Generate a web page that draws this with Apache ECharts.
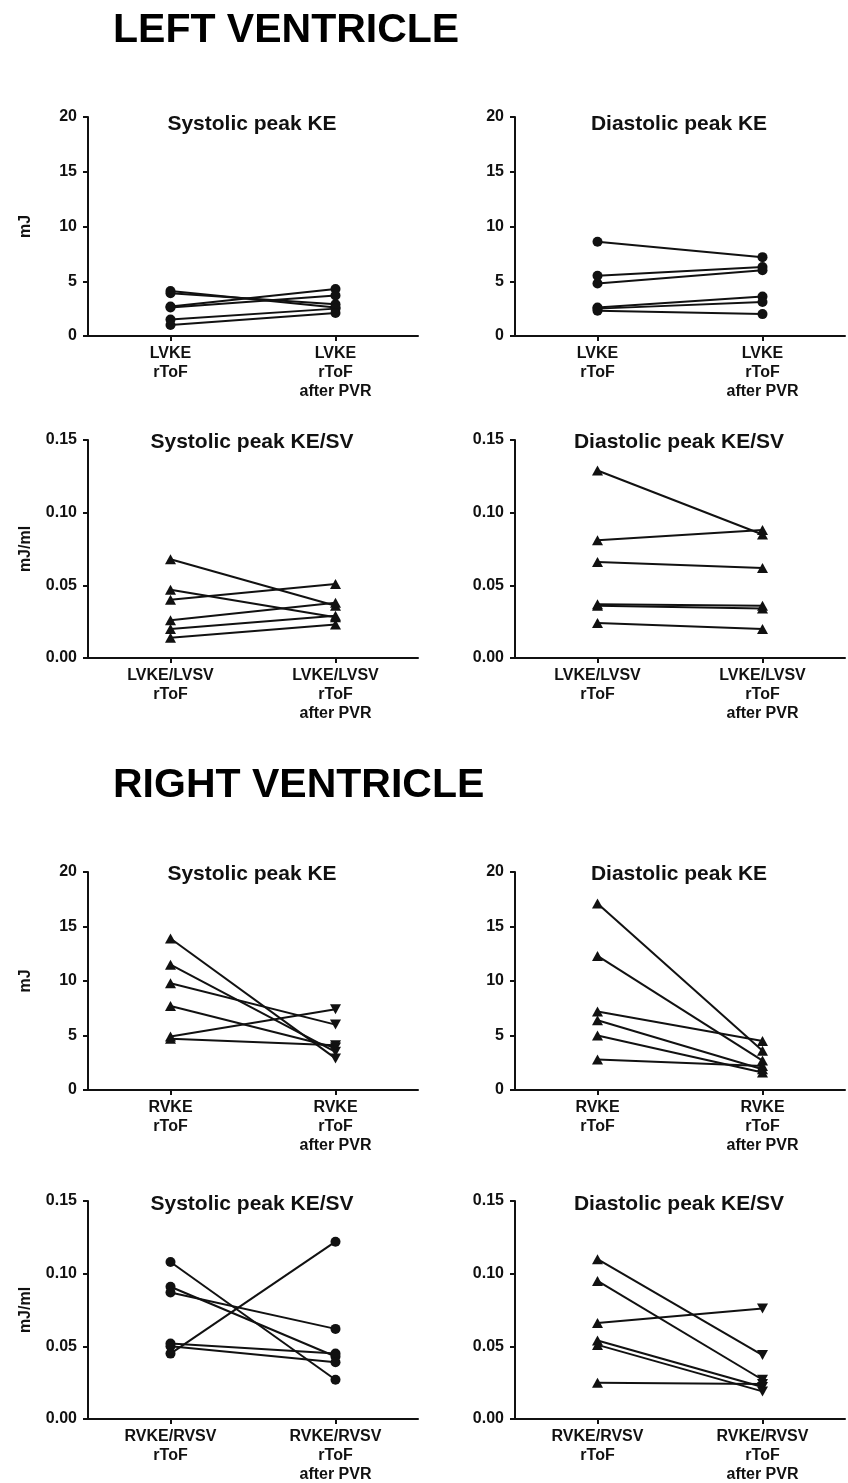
<!DOCTYPE html>
<html>
<head>
<meta charset="utf-8">
<script src="https://cdn.jsdelivr.net/npm/echarts@6/dist/echarts.min.js"></script>
<style>
  html, body { margin: 0; padding: 0; background: #fff; }
  #chart { width: 848px; height: 1483px; }
</style>
</head>
<body>
<div id="chart"></div>
<script>
// ---------- categories ----------
const LV_KE_CATS   = ['LVKE\nrToF', 'LVKE\nrToF\nafter PVR'];
const LV_KESV_CATS = ['LVKE/LVSV\nrToF', 'LVKE/LVSV\nrToF\nafter PVR'];
const RV_KE_CATS   = ['RVKE\nrToF', 'RVKE\nrToF\nafter PVR'];
const RV_KESV_CATS = ['RVKE/RVSV\nrToF', 'RVKE/RVSV\nrToF\nafter PVR'];

// ---------- tick labels ----------
const KE_TICKS   = [0, 5, 10, 15, 20];
const KESV_TICKS = [0, 0.05, 0.10, 0.15];

// ---------- panel titles ----------
const PANEL_TITLES = [
  'Systolic peak KE', 'Diastolic peak KE',
  'Systolic peak KE/SV', 'Diastolic peak KE/SV',
  'Systolic peak KE', 'Diastolic peak KE',
  'Systolic peak KE/SV', 'Diastolic peak KE/SV'
];

// ---------- data (before PVR -> after PVR), one entry per patient ----------
const lvSysKE_pre   = [4.1, 3.9, 2.7, 2.6, 1.5, 1.0];
const lvSysKE_post  = [2.6, 2.9, 4.3, 3.7, 2.5, 2.1];

const lvDiaKE_pre   = [8.6, 5.5, 4.8, 2.6, 2.5, 2.3];
const lvDiaKE_post  = [7.2, 6.3, 6.0, 3.6, 3.1, 2.0];

const lvSysKESV_pre  = [0.068, 0.047, 0.040, 0.026, 0.020, 0.014];
const lvSysKESV_post = [0.036, 0.028, 0.051, 0.038, 0.029, 0.023];

const lvDiaKESV_pre  = [0.129, 0.081, 0.066, 0.037, 0.036, 0.024];
const lvDiaKESV_post = [0.085, 0.088, 0.062, 0.036, 0.034, 0.020];

const rvSysKE_pre   = [13.9, 11.5, 9.8, 7.7, 4.9, 4.7];
const rvSysKE_post  = [2.9, 3.5, 6.0, 3.9, 7.4, 4.1];

const rvDiaKE_pre   = [17.1, 12.3, 7.2, 6.4, 5.0, 2.8];
const rvDiaKE_post  = [3.6, 2.7, 4.5, 1.9, 1.6, 2.2];

const rvSysKESV_pre  = [0.108, 0.091, 0.087, 0.052, 0.050, 0.045];
const rvSysKESV_post = [0.027, 0.043, 0.062, 0.045, 0.039, 0.122];

const rvDiaKESV_pre  = [0.110, 0.095, 0.066, 0.054, 0.051, 0.025];
const rvDiaKESV_post = [0.044, 0.027, 0.076, 0.022, 0.019, 0.024];

// ---------- build ----------
const FONT = "'Liberation Sans', Arial, Helvetica, sans-serif";
const INK = '#111';

const panels = [
  { cats: LV_KE_CATS,   ticks: KE_TICKS,   pre: lvSysKE_pre,   post: lvSysKE_post,   preSym: 'circle',   postSym: 'circle',   postRot: 0,   name: 'mJ' },
  { cats: LV_KE_CATS,   ticks: KE_TICKS,   pre: lvDiaKE_pre,   post: lvDiaKE_post,   preSym: 'circle',   postSym: 'circle',   postRot: 0,   name: '' },
  { cats: LV_KESV_CATS, ticks: KESV_TICKS, pre: lvSysKESV_pre, post: lvSysKESV_post, preSym: 'triangle', postSym: 'triangle', postRot: 0,   name: 'mJ/ml' },
  { cats: LV_KESV_CATS, ticks: KESV_TICKS, pre: lvDiaKESV_pre, post: lvDiaKESV_post, preSym: 'triangle', postSym: 'triangle', postRot: 0,   name: '' },
  { cats: RV_KE_CATS,   ticks: KE_TICKS,   pre: rvSysKE_pre,   post: rvSysKE_post,   preSym: 'triangle', postSym: 'triangle', postRot: 180, name: 'mJ' },
  { cats: RV_KE_CATS,   ticks: KE_TICKS,   pre: rvDiaKE_pre,   post: rvDiaKE_post,   preSym: 'triangle', postSym: 'triangle', postRot: 0,   name: '' },
  { cats: RV_KESV_CATS, ticks: KESV_TICKS, pre: rvSysKESV_pre, post: rvSysKESV_post, preSym: 'circle',   postSym: 'circle',   postRot: 0,   name: 'mJ/ml' },
  { cats: RV_KESV_CATS, ticks: KESV_TICKS, pre: rvDiaKESV_pre, post: rvDiaKESV_post, preSym: 'triangle', postSym: 'triangle', postRot: 180, name: '' }
];

// grid geometry (top, bottom) per row; left per column
const ROWS = [[117, 336], [440, 658], [872, 1090], [1201, 1419]];
const COLS = [88, 515];
const GRID_W = 330;
const TITLE_Y = [123, 441, 873, 1203];

const grids = [], xAxes = [], yAxes = [], series = [], graphics = [];

panels.forEach((p, i) => {
  const row = Math.floor(i / 2), col = i % 2;
  const top = ROWS[row][0], bottom = ROWS[row][1];
  const left = COLS[col];
  grids.push({ left: left, top: top, width: GRID_W, height: bottom - top, outerBoundsMode: 'none', containLabel: false });

  const isSV = p.ticks === KESV_TICKS;
  xAxes.push({
    type: 'category', gridIndex: i, data: p.cats, boundaryGap: true,
    axisLine: { lineStyle: { color: INK, width: 2 } },
    axisTick: { show: true, alignWithLabel: true, length: 5, lineStyle: { color: INK, width: 2 } },
    axisLabel: { color: INK, fontFamily: FONT, fontWeight: 'bold', fontSize: 16, lineHeight: 19, margin: 8, interval: 0 },
    splitLine: { show: false }
  });
  yAxes.push({
    type: 'value', gridIndex: i,
    min: p.ticks[0], max: p.ticks[p.ticks.length - 1], interval: p.ticks[1] - p.ticks[0],
    name: p.name, nameLocation: 'middle', nameRotate: 90, nameGap: 54,
    nameTextStyle: { color: INK, fontFamily: FONT, fontWeight: 'bold', fontSize: 16 },
    axisLine: { show: true, lineStyle: { color: INK, width: 2 } },
    axisTick: { show: true, length: 5, lineStyle: { color: INK, width: 2 } },
    axisLabel: { color: INK, fontFamily: FONT, fontWeight: 'bold', fontSize: 16, margin: 11,
      formatter: v => isSV ? v.toFixed(2) : String(v) },
    splitLine: { show: false }
  });

  p.pre.forEach((v, k) => {
    series.push({
      type: 'line', xAxisIndex: i, yAxisIndex: i, silent: true, animation: false,
      lineStyle: { color: INK, width: 2 },
      itemStyle: { color: INK, borderWidth: 0 },
      symbolSize: p.preSym === 'circle' ? 10 : [11, 10],
      data: [
        { value: v, symbol: p.preSym },
        { value: p.post[k], symbol: p.postSym, symbolRotate: p.postRot }
      ]
    });
  });

  graphics.push({
    type: 'text', x: left + GRID_W / 2 - 1, y: TITLE_Y[row] + 1,
    style: { text: PANEL_TITLES[i], fill: INK, font: "bold 21px " + FONT, align: 'center', verticalAlign: 'middle' }
  });
});

graphics.push({ type: 'text', x: 113, y: 30.5,
  style: { text: 'LEFT VENTRICLE', fill: '#000', font: "bold 41px " + FONT, align: 'left', verticalAlign: 'middle' } });
graphics.push({ type: 'text', x: 113, y: 785.5,
  style: { text: 'RIGHT VENTRICLE', fill: '#000', font: "bold 41px " + FONT, align: 'left', verticalAlign: 'middle' } });

const chart = echarts.init(document.getElementById('chart'), null, { renderer: 'canvas' });
chart.setOption({
  backgroundColor: '#fff',
  animation: false,
  grid: grids,
  xAxis: xAxes,
  yAxis: yAxes,
  series: series,
  graphic: graphics
});
</script>
</body>
</html>
